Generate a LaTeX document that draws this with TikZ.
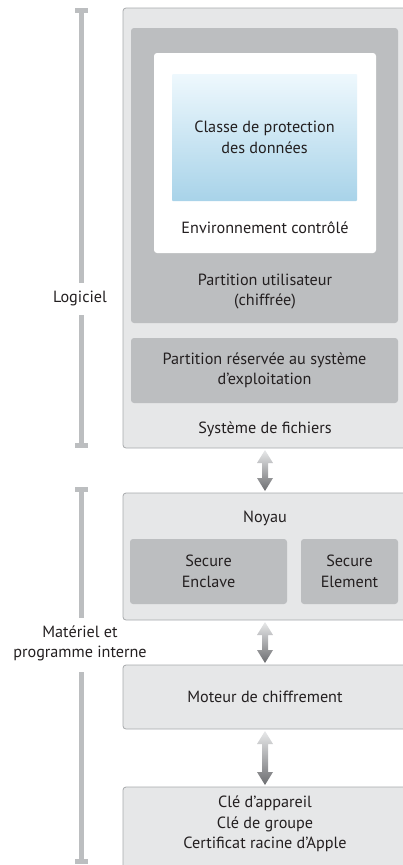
\documentclass[tikz,border=0pt]{standalone}
\usepackage{fontspec}
\setmainfont{PT Sans}
\usetikzlibrary{calc}
\definecolor{frame}{HTML}{A7A9AC}
\definecolor{panel}{HTML}{E6E7E8}
\definecolor{slab}{HTML}{BCBEC0}
\definecolor{ink}{HTML}{231F20}
\definecolor{skytop}{HTML}{EEF8FD}
\definecolor{skybot}{HTML}{A8D3E9}
\definecolor{barc}{HTML}{BCBEC0}
\definecolor{linktop}{HTML}{E8E9EA}
\definecolor{linkbot}{HTML}{6D6E71}

% double-headed shaded arrow from the bottom of #1 to the top of #2
\newcommand\updown[2]{%
  \shade[link] let \p1=(#1.south), \p2=(#2.north) in
    (\x1,\y1-2pt) -- (\x1+8pt,\y1-15pt) -- (\x1+3pt,\y1-15pt) --
    (\x1+3pt,\y2+15pt) -- (\x1+8pt,\y2+15pt) -- (\x1,\y2+2pt) --
    (\x1-8pt,\y2+15pt) -- (\x1-3pt,\y2+15pt) -- (\x1-3pt,\y1-15pt) --
    (\x1-8pt,\y1-15pt) -- cycle;}

\begin{document}
\begin{tikzpicture}[x=1pt,y=-1pt,
  font=\fontsize{16.2}{20.5}\selectfont, text=ink,
  blk/.style={anchor=north west, inner sep=0pt, outer sep=0pt, rounded corners=3pt},
  panelbox/.style={blk, fill=panel, draw=frame, line width=0.8pt},
  slabbox/.style={blk, fill=slab, align=center},
  lbl/.style={align=center, inner sep=0pt},
  bar/.style={draw=barc, line width=5pt},
  link/.style={top color=linktop, bottom color=linkbot}]
\useasboundingbox (0,0) rectangle (403,865);

% software stack
\node[panelbox, minimum width=284pt, minimum height=440pt] (soft) at (123,8) {};
\node[slabbox, minimum width=267pt, minimum height=295pt] (user) at (131,28) {};
\node[blk, fill=white, minimum width=222pt, minimum height=200pt] (env) at (154,53) {};
\node[blk, rounded corners=1pt, top color=skytop, bottom color=skybot,
      minimum width=185pt, minimum height=127pt, align=center] (cls) at (172,74)
      {Classe de protection\\des données};
\node[lbl] (envl) at (265,228) {Environnement contrôlé};
\node[lbl] (userl) at (265,291.5) {Partition utilisateur\\(chiffrée)};
\node[slabbox, minimum width=267pt, minimum height=65pt] (os) at (131,338)
      {Partition réservée au système\\d’exploitation};
\node[lbl] (fs) at (265,429) {Système de fichiers};

% kernel
\node[panelbox, minimum width=284pt, minimum height=127pt] (kern) at (123,493) {};
\node[lbl] (kernl) at (265,518) {Noyau};
\node[slabbox, minimum width=157pt, minimum height=65pt] (sep) at (130,539) {Secure\\Enclave};
\node[slabbox, minimum width=97pt, minimum height=65pt] (se) at (301,539) {Secure\\Element};

% crypto engine and keys
\node[panelbox, minimum width=284pt, minimum height=64pt] (aes) at (123,665) {Moteur de chiffrement};
\node[panelbox, minimum width=284pt, minimum height=100pt] (keys) at (123,787) {};
\node[lbl, anchor=north] (keysl) at (265,796) {Clé d’appareil\\Clé de groupe\\Certificat racine d’Apple};

% links between layers
\updown{soft}{kern}
\updown{kern}{aes}
\updown{aes}{keys}

% side brackets
\node[lbl] (sw) at (80,298) {Logiciel};
\draw[bar] (81.5,10) -- (81.5,283);
\draw[bar] (81.5,315) -- (81.5,446);
\draw[bar] (75,10.5) -- (88,10.5);
\draw[bar] (75,445.5) -- (88,445.5);

\node[lbl] (hw) at (80,643.5) {Matériel et\\programme interne};
\draw[bar] (81.5,488) -- (81.5,618);
\draw[bar] (81.5,672) -- (81.5,862);
\draw[bar] (75,489.5) -- (88,489.5);
\draw[bar] (75,861.5) -- (88,861.5);
\end{tikzpicture}
\end{document}
